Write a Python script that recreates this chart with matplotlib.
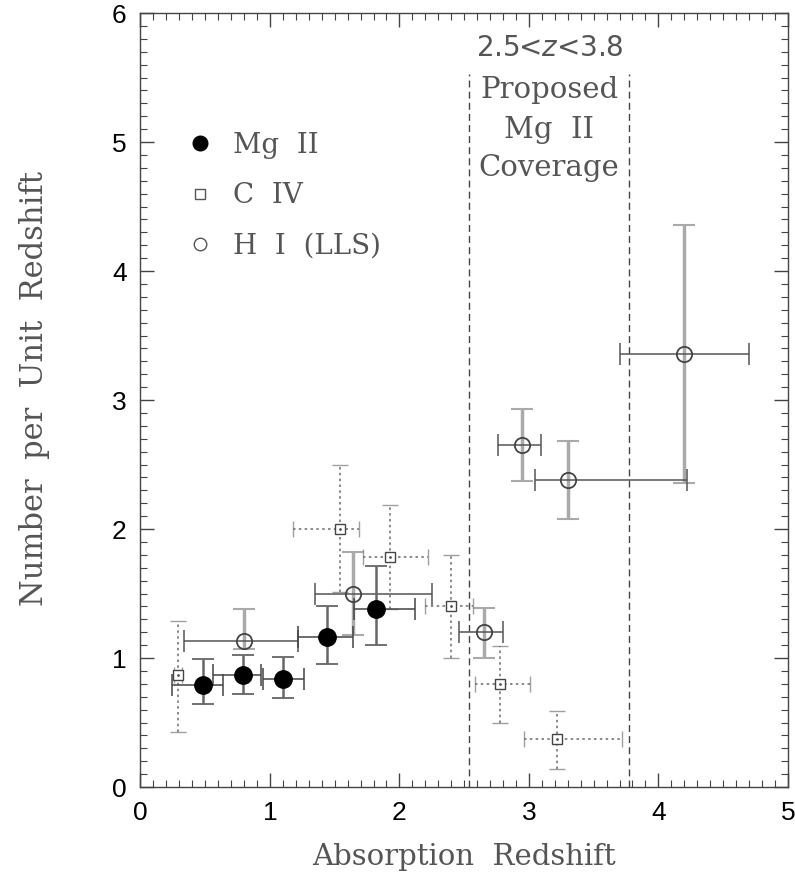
import numpy as np
import matplotlib.pyplot as plt
from matplotlib.lines import Line2D
from matplotlib.ticker import MultipleLocator

# Mg II (filled circles)
mg_z = [0.48, 0.79, 1.10, 1.44, 1.82]
mg_z_lo = [0.24, 0.56, 0.95, 1.22, 1.65]
mg_z_hi = [0.64, 0.93, 1.26, 1.64, 2.12]
mg_n = [0.79, 0.87, 0.84, 1.16, 1.38]
mg_n_lo = [0.64, 0.72, 0.69, 0.95, 1.10]
mg_n_hi = [0.99, 1.02, 1.01, 1.40, 1.71]

# C IV (open squares)
c4_z = [0.29, 1.54, 1.93, 2.40, 2.78, 3.22]
c4_z_lo = [0.26, 1.18, 1.72, 2.20, 2.58, 2.96]
c4_z_hi = [0.32, 1.69, 2.22, 2.57, 3.01, 3.72]
c4_n = [0.87, 2.00, 1.78, 1.40, 0.80, 0.37]
c4_n_lo = [0.43, 1.51, 1.38, 1.00, 0.50, 0.14]
c4_n_hi = [1.29, 2.50, 2.19, 1.80, 1.09, 0.59]

# H I (LLS) (open circles)
hi_z = [0.80, 1.64, 2.65, 2.95, 3.30, 4.20]
hi_z_lo = [0.34, 1.35, 2.46, 2.76, 3.05, 3.70]
hi_z_hi = [1.22, 2.25, 2.80, 3.09, 4.22, 4.70]
hi_n = [1.13, 1.50, 1.20, 2.65, 2.38, 3.36]
hi_n_lo = [1.07, 1.18, 1.00, 2.37, 2.08, 2.36]
hi_n_hi = [1.38, 1.82, 1.39, 2.93, 2.68, 4.36]

series_names = ['Mg  II', 'C  IV', 'H  I  (LLS)']
cover_lo, cover_hi = 2.54, 3.77

serif = ['DejaVu Serif']
sans = ['Liberation Sans', 'DejaVu Sans']
grey_txt = '#555555'


def errs(c, lo, hi):
    c = np.array(c)
    return [c - np.array(lo), np.array(hi) - c]


fig = plt.figure(figsize=(7.95, 8.82), dpi=100)
ax = fig.add_axes([0.1767, 0.1077, 0.8143, 0.8775])

# H I errors: thick light vertical, thin dark horizontal
ax.errorbar(hi_z, hi_n, yerr=errs(hi_n, hi_n_lo, hi_n_hi), fmt='none',
            ecolor='#aaaaaa', elinewidth=2.5, capsize=8, capthick=1.5, zorder=2)
ax.errorbar(hi_z, hi_n, xerr=errs(hi_z, hi_z_lo, hi_z_hi), fmt='none',
            ecolor='#555555', elinewidth=1.1, capsize=8, capthick=1.1, zorder=2)
ax.plot(hi_z, hi_n, 'o', ms=11, mfc='none', mec='#444444', mew=1.3, zorder=4)

# C IV errors: dotted grey
eb = ax.errorbar(c4_z, c4_n, yerr=errs(c4_n, c4_n_lo, c4_n_hi),
                 xerr=errs(c4_z, c4_z_lo, c4_z_hi), fmt='none',
                 ecolor='#777777', elinewidth=1.2, capsize=6, capthick=1.0, zorder=2)
for lc in eb[2]:
    lc.set_linestyle((0, (1.5, 2)))
for cap in eb[1]:
    cap.set_alpha(0.7)
ax.plot(c4_z, c4_n, 's', ms=7.5, mfc='white', mec='#444444', mew=1.0, zorder=4)
ax.plot(c4_z, c4_n, '.', ms=2, color='#555555', zorder=5)

# Mg II errors
ax.errorbar(mg_z, mg_n, yerr=errs(mg_n, mg_n_lo, mg_n_hi), fmt='none',
            ecolor='#666666', elinewidth=1.8, capsize=8, capthick=1.3, zorder=3)
ax.errorbar(mg_z, mg_n, xerr=errs(mg_z, mg_z_lo, mg_z_hi), fmt='none',
            ecolor='#444444', elinewidth=1.1, capsize=8, capthick=1.1, zorder=3)
ax.plot(mg_z, mg_n, 'o', ms=12.5, color='black', zorder=5)

# proposed coverage
for xv in (cover_lo, cover_hi):
    ax.plot([xv, xv], [0, 5.53], ls=(0, (5, 3)), color='#444444', lw=1.0, zorder=1)
xc = (cover_lo + cover_hi) / 2
ax.text(xc, 5.73, '2.5<$z$<3.8', ha='center', va='center', fontsize=20,
        color=grey_txt, family=['DejaVu Sans'])
ax.text(xc, 5.40, 'Proposed', ha='center', va='center', fontsize=21,
        color=grey_txt, family=serif)
ax.text(xc, 5.09, 'Mg  II', ha='center', va='center', fontsize=21,
        color=grey_txt, family=serif)
ax.text(xc, 4.80, 'Coverage', ha='center', va='center', fontsize=21,
        color=grey_txt, family=serif)

handles = [
    Line2D([], [], ls='none', marker='o', ms=10.5, color='black'),
    Line2D([], [], ls='none', marker='s', ms=7, mfc='white', mec='#555555', mew=1.0),
    Line2D([], [], ls='none', marker='o', ms=9, mfc='none', mec='#555555', mew=1.0),
]
ax.legend(handles, series_names, loc='upper left',
          bbox_to_anchor=(0.032, 0.879), frameon=False, handlelength=1.0,
          handletextpad=0.7, labelspacing=0.85,
          prop={'family': serif, 'size': 20}, labelcolor=grey_txt)

ax.set_xlim(0, 5)
ax.set_ylim(0, 6)
ax.xaxis.set_major_locator(MultipleLocator(1))
ax.xaxis.set_minor_locator(MultipleLocator(0.1))
ax.yaxis.set_major_locator(MultipleLocator(1))
ax.yaxis.set_minor_locator(MultipleLocator(0.1))
ax.tick_params(which='both', direction='in', top=True, right=True, color='#444444')
ax.tick_params(which='major', length=10, width=1.0, labelsize=19, pad=10)
ax.tick_params(which='minor', length=5, width=0.8)
for lab in ax.get_xticklabels() + ax.get_yticklabels():
    lab.set_family(sans)
for sp in ax.spines.values():
    sp.set_color('#444444')
    sp.set_linewidth(1.0)

ax.set_xlabel('Absorption  Redshift', fontsize=21, family=serif, color=grey_txt)
ax.set_ylabel('Number  per  Unit  Redshift', fontsize=22, family=serif, color=grey_txt)
ax.xaxis.set_label_coords(0.5, -0.072)
ax.yaxis.set_label_coords(-0.14, 0.515)

fig.savefig('out.png', dpi=100)
